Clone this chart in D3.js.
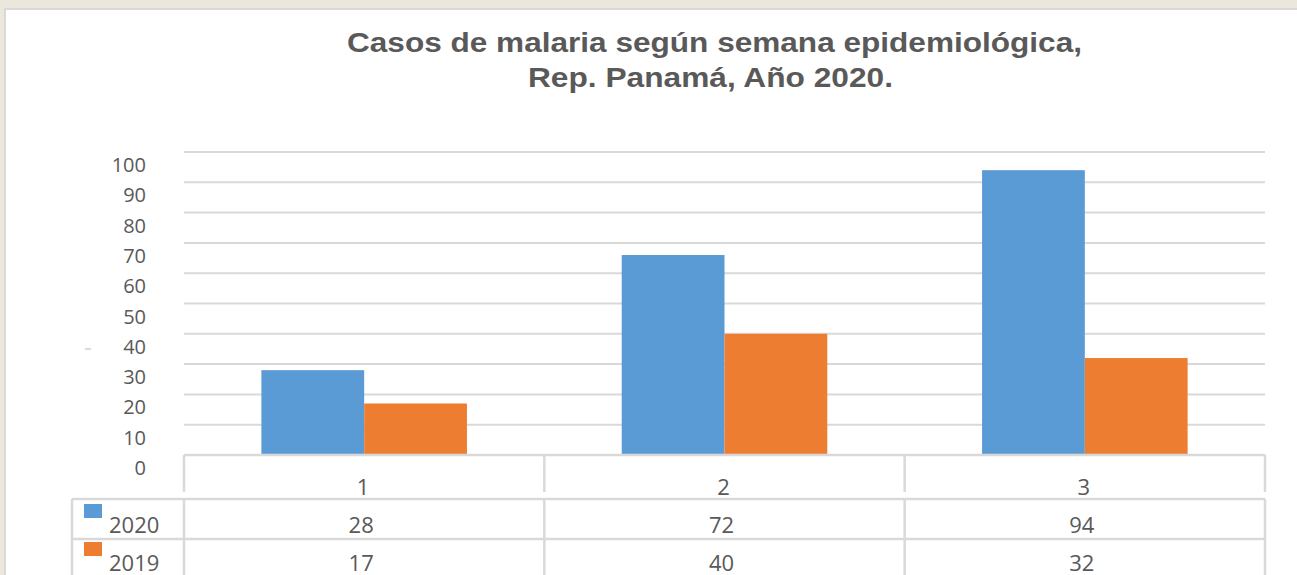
<!DOCTYPE html>
<html>
<head>
<meta charset="utf-8">
<script src="https://cdn.jsdelivr.net/npm/d3@7"></script>
<style>
    body { margin: 0; background: #ebe7dd; }
    svg { display: block; }
</style>
</head>
<body>
<svg id="chart"></svg>
<script>
const WIDTH = 1297;
const HEIGHT = 575;
const COLOR = {
    s2020: '#5b9bd5',
    s2019: '#ed7d31',
    grid: '#d9d9d9',
    text: '#595959',
}

const weeks = ['1', '2', '3'];
const series = ['2020', '2019'];
const cases2020 = [28, 66, 94];
const cases2019 = [17, 40, 32];
// the table under the chart prints its own numbers
const table2020 = ['28', '72', '94'];
const table2019 = ['17', '40', '32'];
const yTicks = [0, 10, 20, 30, 40, 50, 60, 70, 80, 90, 100];
const titleLines = ['Casos de malaria según semana epidemiológica,', 'Rep. Panamá, Año 2020.'];

const svg = d3.select('#chart')
    .attr('width', WIDTH)
    .attr('height', HEIGHT)

// white panel with a thin grey border
svg.append('rect')
    .attr('x', 5).attr('y', 9)
    .attr('width', WIDTH).attr('height', HEIGHT)
    .attr('fill', '#fff')
    .attr('stroke', COLOR.grid)
    .attr('stroke-width', 2)

const plot = { left: 184, right: 1265, top: 152, bottom: 455 };

const x = d3.scaleBand()
    .domain(weeks)
    .range([plot.left, plot.right])
    .padding(0)

const xSub = d3.scaleBand()
    .domain(series)
    .range([0, x.bandwidth()])
    .paddingInner(0)
    .paddingOuter(0.753)

const y = d3.scaleLinear()
    .domain([0, 100])
    .range([plot.bottom, plot.top])

// title
svg.append('g')
    .selectAll('text')
    .data(titleLines)
    .enter().append('text')
    .attr('x', (d, i) => i === 0 ? 714.5 : 710.5)
    .attr('y', (d, i) => i === 0 ? 51.5 : 86.5)
    .attr('text-anchor', 'middle')
    .attr('font-family', 'Liberation Sans, Arial, sans-serif')
    .attr('font-weight', 'bold')
    .attr('font-size', 28)
    .attr('fill', COLOR.text)
    .attr('textLength', (d, i) => i === 0 ? 735 : 365)
    .attr('lengthAdjust', 'spacingAndGlyphs')
    .text(d => d)

// gridlines
svg.append('g')
    .selectAll('line')
    .data(yTicks.filter(d => d > 0))
    .enter().append('line')
    .attr('x1', plot.left)
    .attr('x2', plot.right)
    .attr('y1', d => y(d))
    .attr('y2', d => y(d))
    .attr('stroke', COLOR.grid)
    .attr('stroke-width', 2)

// y labels (sit a little below their gridlines, as in the original)
svg.append('g')
    .selectAll('text')
    .data(yTicks)
    .enter().append('text')
    .attr('x', 146)
    .attr('y', d => y(d) + 13)
    .attr('dy', '0.35em')
    .attr('text-anchor', 'end')
    .attr('font-family', 'Open Sans, sans-serif')
    .attr('font-size', 20)
    .attr('fill', COLOR.text)
    .text(d => d)

// stray dash left of the axis
svg.append('line')
    .attr('x1', 85).attr('x2', 91)
    .attr('y1', 349).attr('y2', 349)
    .attr('stroke', '#cfcfcf')
    .attr('stroke-width', 1.5)

// bars
const barData = [];
weeks.forEach((w, i) => {
    barData.push({ week: w, serie: '2020', value: cases2020[i] });
    barData.push({ week: w, serie: '2019', value: cases2019[i] });
});

svg.append('g')
    .selectAll('rect')
    .data(barData)
    .enter().append('rect')
    .attr('x', d => x(d.week) + xSub(d.serie))
    .attr('y', d => y(d.value))
    .attr('width', xSub.bandwidth())
    .attr('height', d => y(0) - y(d.value))
    .attr('fill', d => d.serie === '2020' ? COLOR.s2020 : COLOR.s2019)

// data table
const table = svg.append('g')
    .attr('stroke', COLOR.grid)
    .attr('stroke-width', 2.5)
    .attr('fill', 'none')

const rowTop = 499;
const rowH = 40;
const keyLeft = 72;

// baseline / header top
table.append('line')
    .attr('x1', plot.left).attr('x2', plot.right)
    .attr('y1', plot.bottom).attr('y2', plot.bottom)

// header verticals
const colEdges = weeks.map(w => x(w)).concat([plot.right]);
table.selectAll('.hv')
    .data(colEdges)
    .enter().append('line')
    .attr('x1', d => d).attr('x2', d => d)
    .attr('y1', plot.bottom).attr('y2', 492)

// row lines
table.selectAll('.hr')
    .data([0, 1, 2])
    .enter().append('line')
    .attr('x1', keyLeft).attr('x2', plot.right)
    .attr('y1', d => rowTop + d * rowH)
    .attr('y2', d => rowTop + d * rowH)

// row verticals
table.selectAll('.rv')
    .data([keyLeft].concat(colEdges))
    .enter().append('line')
    .attr('x1', d => d).attr('x2', d => d)
    .attr('y1', rowTop).attr('y2', HEIGHT + 5)

const textStyle = sel => sel
    .attr('font-family', 'Open Sans, sans-serif')
    .attr('font-size', 22)
    .attr('fill', COLOR.text)

// header labels
svg.append('g')
    .selectAll('text')
    .data(weeks)
    .enter().append('text')
    .attr('x', d => x(d) + x.bandwidth() / 2 - 1)
    .attr('y', 495)
    .attr('text-anchor', 'middle')
    .call(textStyle)
    .text(d => d)

const rows = [
    { name: '2020', color: COLOR.s2020, values: table2020 },
    { name: '2019', color: COLOR.s2019, values: table2019 },
];

rows.forEach((row, r) => {
    const base = 533 + r * 37.5;
    svg.append('rect')
        .attr('x', 84)
        .attr('y', 504 + r * 38)
        .attr('width', 18)
        .attr('height', 14)
        .attr('fill', row.color)
    svg.append('text')
        .attr('x', 109)
        .attr('y', base)
        .call(textStyle)
        .text(row.name)
    svg.append('g')
        .selectAll('text')
        .data(row.values)
        .enter().append('text')
        .attr('x', (d, i) => x(weeks[i]) + x.bandwidth() / 2 - 3)
        .attr('y', base)
        .attr('text-anchor', 'middle')
        .call(textStyle)
        .text(d => d)
});
</script>
</body>
</html>
